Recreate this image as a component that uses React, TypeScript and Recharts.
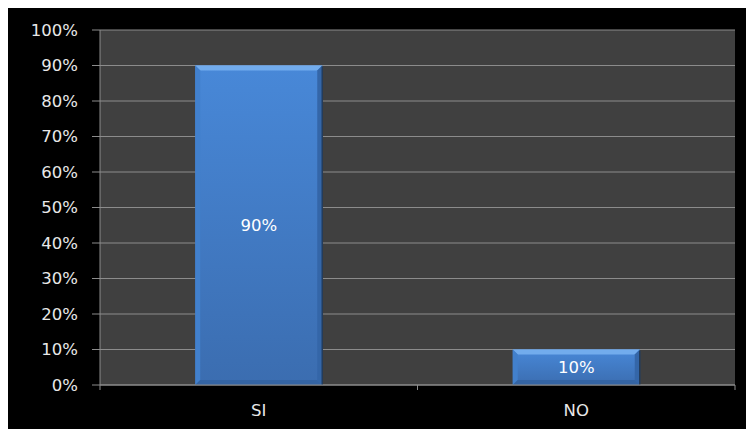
import { Bar, BarChart, CartesianGrid, LabelList, XAxis, YAxis } from "recharts";

const categories = ["SI", "NO"];
const shares = [90, 10];
const yTicks = [0, 10, 20, 30, 40, 50, 60, 70, 80, 90, 100];

const data = categories.map((name, i) => ({ name, share: shares[i] }));

const FONT = "'DejaVu Sans', sans-serif";
const FONT_SIZE = 16.5;
const AXIS_GRAY = "#8c8c8c";

// Bar drawn as a bevelled block: lit top edge, shaded sides and bottom.
function BevelBar(props: any) {
  const { x, y, width, height } = props;
  if (!height || height <= 0) return null;
  const b = Math.min(5, height / 3);
  const r = x + width;
  const btm = y + height;
  return (
    <g>
      <rect x={x} y={y} width={width} height={height} fill="url(#barBody)" />
      <polygon points={`${x},${y} ${r},${y} ${r - b},${y + b} ${x + b},${y + b}`} fill="#72aced" />
      <polygon points={`${x},${y} ${x + b},${y + b} ${x + b},${btm - b} ${x},${btm}`} fill="#4280cc" />
      <polygon points={`${r},${y} ${r},${btm} ${r - b},${btm - b} ${r - b},${y + b}`} fill="#3466a8" />
      <polygon points={`${x},${btm} ${x + b},${btm - b} ${r - b},${btm - b} ${r},${btm}`} fill="#3464a3" />
      <line x1={r} y1={y + 1} x2={r} y2={btm} stroke="#233c5c" strokeWidth={1.5} />
    </g>
  );
}

// Category label plus tick marks at the category boundaries.
function CategoryTick(props: any) {
  const { x, y, payload, index, visibleTicksCount, width } = props;
  const step = width / visibleTicksCount;
  const left = x - step / 2;
  const right = x + step / 2;
  return (
    <g>
      <line x1={left} y1={y - 8} x2={left} y2={y - 3} stroke={AXIS_GRAY} />
      {index === visibleTicksCount - 1 && (
        <line x1={right} y1={y - 8} x2={right} y2={y - 3} stroke={AXIS_GRAY} />
      )}
      <text x={x} y={y + 17} textAnchor="middle" dominantBaseline="central" fill="#e8e8e8" fontSize={FONT_SIZE} fontFamily={FONT}>
        {payload.value}
      </text>
    </g>
  );
}

export default function App() {
  return (
    <div style={{ width: 746, height: 421, background: "#000" }}>
      <BarChart
        width={746}
        height={421}
        data={data}
        margin={{ top: 22, right: 19, bottom: 0, left: 0 }}
        barCategoryGap="30%"
      >
        <defs>
          <linearGradient id="barBody" x1="0" y1="0" x2="0" y2="1">
            <stop offset="0%" stopColor="#4888d8" />
            <stop offset="100%" stopColor="#3b6db0" />
          </linearGradient>
        </defs>
        <CartesianGrid vertical={false} stroke={AXIS_GRAY} fill="#404040" fillOpacity={1} />
        <XAxis
          dataKey="name"
          height={44}
          axisLine={{ stroke: AXIS_GRAY }}
          tickLine={false}
          tick={<CategoryTick />}
          interval={0}
        />
        <YAxis
          width={92}
          domain={[0, 100]}
          ticks={yTicks}
          interval={0}
          tickFormatter={(v) => `${v}%`}
          axisLine={{ stroke: AXIS_GRAY }}
          tickLine={{ stroke: AXIS_GRAY }}
          tickSize={8}
          tickMargin={14}
          tick={{ fill: "#e8e8e8", fontSize: FONT_SIZE, fontFamily: FONT }}
        />
        <Bar dataKey="share" shape={<BevelBar />} isAnimationActive={false}>
          <LabelList
            dataKey="share"
            position="center"
            formatter={(v: any) => `${v}%`}
            fill="#ffffff"
            fontSize={FONT_SIZE}
            fontFamily={FONT}
          />
        </Bar>
      </BarChart>
    </div>
  );
}
